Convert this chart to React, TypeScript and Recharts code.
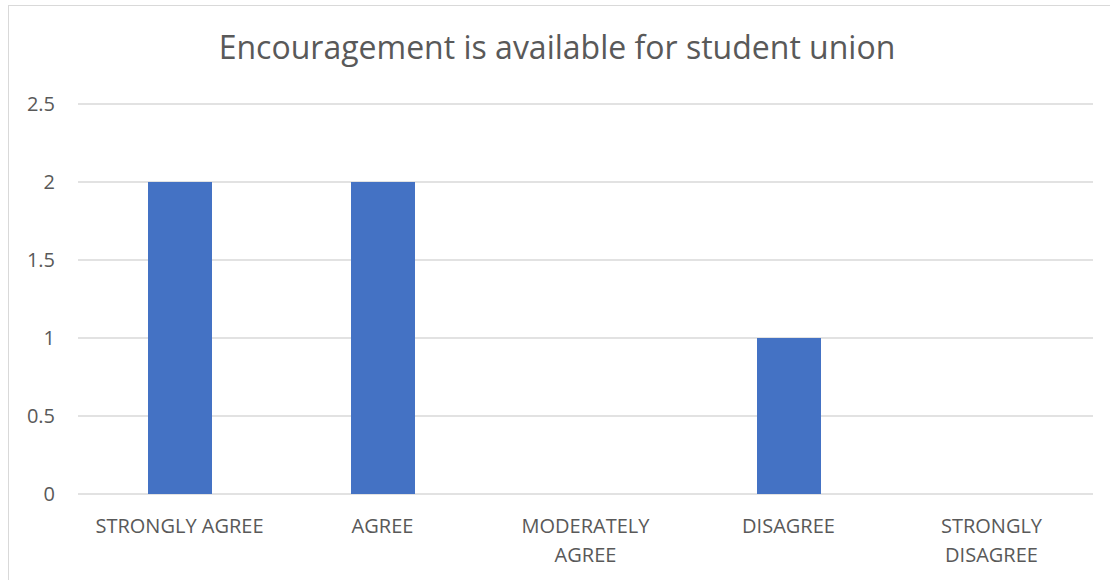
import React from "react";
import { BarChart, Bar, XAxis, YAxis, CartesianGrid } from "recharts";

const TITLE = "Encouragement is available for student union";
const CATEGORIES = ["STRONGLY AGREE", "AGREE", "MODERATELY AGREE", "DISAGREE", "STRONGLY DISAGREE"];
const VALUES = [2, 2, 0, 1, 0];
const Y_TICKS = [0, 0.5, 1, 1.5, 2, 2.5];

const FONT = "'Open Sans', sans-serif";
const TEXT_COLOR = "#595959";
const GRID = "#d9d9d9";
const BAR = "#4472C4";

const data = CATEGORIES.map((name, i) => ({ name, value: VALUES[i] }));

// long labels break at their last space, like Excel does in a narrow band
function wrapLabel(label: string): string[] {
  if (label.length <= 14) return [label];
  const cut = label.lastIndexOf(" ");
  return cut > 0 ? [label.slice(0, cut), label.slice(cut + 1)] : [label];
}

function CategoryTick(props: any) {
  const { x, y, payload } = props;
  const lines = wrapLabel(String(payload.value));
  return (
    <text
      x={x}
      y={y}
      textAnchor="middle"
      fill={TEXT_COLOR}
      style={{ fontFamily: FONT, fontSize: 20 }}
    >
      {lines.map((line, i) => (
        <tspan key={i} x={x} dy={i === 0 ? 14 : 29}>
          {line}
        </tspan>
      ))}
    </text>
  );
}

export default function App() {
  return (
    <div
      style={{
        position: "absolute",
        left: 8,
        top: 5,
        width: 1110,
        height: 580,
        border: `1px solid ${GRID}`,
        background: "#fff",
        fontFamily: FONT,
      }}
    >
      <div
        style={{
          position: "absolute",
          left: 0,
          top: 19,
          width: 1096,
          textAlign: "center",
          fontSize: 32,
          lineHeight: "44px",
          color: TEXT_COLOR,
        }}
      >
        {TITLE}
      </div>
      <BarChart
        width={1100}
        height={574}
        data={data}
        margin={{ top: 98, right: 16, bottom: 26, left: 0 }}
        barSize={64}
      >
        <CartesianGrid vertical={false} stroke={GRID} strokeWidth={1.5} />
        <XAxis
          dataKey="name"
          axisLine={false}
          tickLine={false}
          tickSize={0}
          tickMargin={25}
          height={60}
          interval={0}
          tick={(p: any) => <CategoryTick {...p} />}
        />
        <YAxis
          domain={[0, 2.5]}
          ticks={Y_TICKS}
          width={69}
          axisLine={false}
          tickLine={false}
          tickSize={0}
          tickMargin={23}
          tick={{ fill: TEXT_COLOR, fontSize: 20, fontFamily: FONT }}
        />
        <Bar dataKey="value" fill={BAR} isAnimationActive={false} />
      </BarChart>
    </div>
  );
}
